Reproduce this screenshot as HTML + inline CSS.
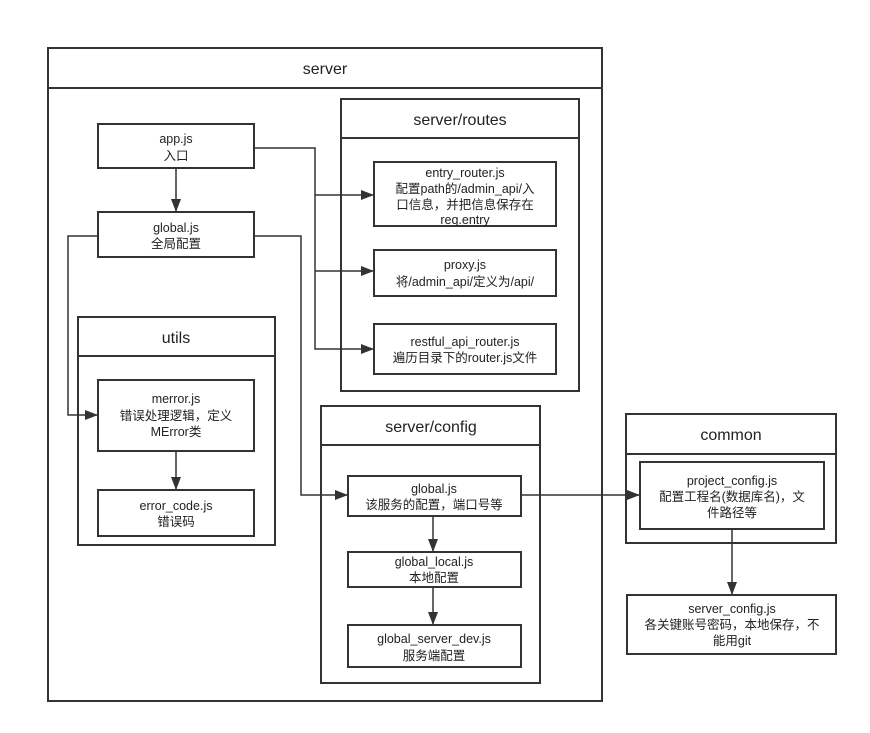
<!DOCTYPE html>
<html><head><meta charset="utf-8"><style>body{margin:0;background:#fff}svg{display:block}text{font-family:"Liberation Sans","Noto Sans CJK SC",sans-serif;fill:#222}</style></head><body>
<svg width="870" height="733" viewBox="0 0 870 733" xmlns="http://www.w3.org/2000/svg">
<defs><marker id="a" markerWidth="13" markerHeight="12" refX="12" refY="6" orient="auto" markerUnits="userSpaceOnUse"><path d="M0,1 L13,6 L0,11 z" fill="#333"/></marker></defs>
<g fill="none" stroke="#333" stroke-width="2">
<rect x="48" y="48" width="554" height="653"/><line x1="48" y1="88" x2="602" y2="88"/>
<rect x="341" y="99" width="238" height="292"/><line x1="341" y1="138" x2="579" y2="138"/>
<rect x="374" y="162" width="182" height="64"/><rect x="374" y="250" width="182" height="46"/><rect x="374" y="324" width="182" height="50"/>
<rect x="98" y="124" width="156" height="44"/><rect x="98" y="212" width="156" height="45"/>
<rect x="78" y="317" width="197" height="228"/><line x1="78" y1="356" x2="275" y2="356"/>
<rect x="98" y="380" width="156" height="71"/><rect x="98" y="490" width="156" height="46"/>
<rect x="321" y="406" width="219" height="277"/><line x1="321" y1="445" x2="540" y2="445"/>
<rect x="348" y="476" width="173" height="40"/><rect x="348" y="552" width="173" height="35"/><rect x="348" y="625" width="173" height="42"/>
<rect x="626" y="414" width="210" height="129"/><line x1="626" y1="454" x2="836" y2="454"/>
<rect x="640" y="462" width="184" height="67"/><rect x="627" y="595" width="209" height="59"/>
</g>
<g fill="none" stroke="#333" stroke-width="1.5">
<polyline points="254,148 315,148 315,349 373,349" marker-end="url(#a)"/>
<polyline points="315,195 373,195" marker-end="url(#a)"/>
<polyline points="315,271 373,271" marker-end="url(#a)"/>
<polyline points="98,236 68,236 68,415 97,415" marker-end="url(#a)"/>
<polyline points="254,236 301,236 301,495 347,495" marker-end="url(#a)"/>
<polyline points="521,495 639,495" marker-end="url(#a)"/>
<line x1="176" y1="168" x2="176" y2="211" marker-end="url(#a)"/>
<line x1="176" y1="451" x2="176" y2="489" marker-end="url(#a)"/>
<line x1="433" y1="516" x2="433" y2="551" marker-end="url(#a)"/>
<line x1="433" y1="587" x2="433" y2="624" marker-end="url(#a)"/>
<line x1="732" y1="529" x2="732" y2="594" marker-end="url(#a)"/>
</g>
<g text-anchor="middle" font-size="16">
<text x="325" y="74">server</text><text x="460" y="125">server/routes</text><text x="176" y="343">utils</text><text x="431" y="432">server/config</text><text x="731" y="440">common</text>
</g>
<g text-anchor="middle" font-size="12.5">
<text x="176" y="143">app.js</text><text x="176" y="160">入口</text>
<text x="176" y="232">global.js</text><text x="176" y="248">全局配置</text>
<text x="465" y="177">entry_router.js</text><text x="465" y="193">配置path的/admin_api/入</text><text x="465" y="209">口信息，并把信息保存在</text><text x="465" y="224">req.entry</text>
<text x="465" y="269">proxy.js</text><text x="465" y="286">将/admin_api/定义为/api/</text>
<text x="465" y="346">restful_api_router.js</text><text x="465" y="362">遍历目录下的router.js文件</text>
<text x="176" y="403">merror.js</text><text x="176" y="420">错误处理逻辑，定义</text><text x="176" y="436">MError类</text>
<text x="176" y="510">error_code.js</text><text x="176" y="526">错误码</text>
<text x="434" y="493">global.js</text><text x="434" y="509">该服务的配置，端口号等</text>
<text x="434" y="566">global_local.js</text><text x="434" y="582">本地配置</text>
<text x="434" y="643">global_server_dev.js</text><text x="434" y="660">服务端配置</text>
<text x="732" y="485">project_config.js</text><text x="732" y="501">配置工程名(数据库名)，文</text><text x="732" y="517">件路径等</text>
<text x="732" y="613">server_config.js</text><text x="732" y="629">各关键账号密码，本地保存，不</text><text x="732" y="645">能用git</text>
</g>
</svg>
</body></html>
